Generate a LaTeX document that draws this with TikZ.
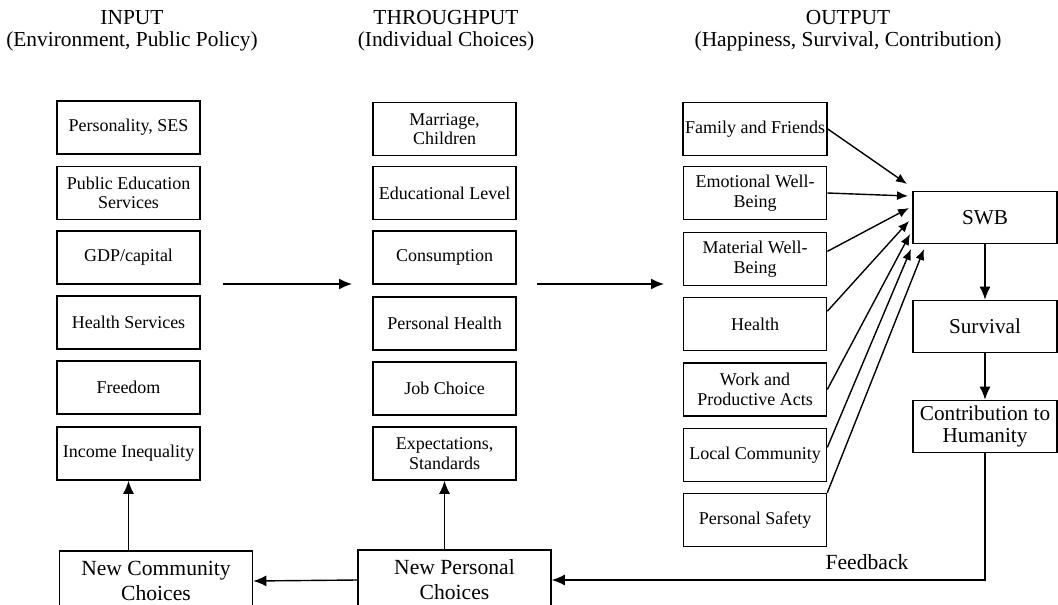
\documentclass[tikz,border=0pt]{standalone}
\usepackage{fontspec}
\setmainfont{Liberation Serif}
\usetikzlibrary{arrows.meta}

\tikzset{
  smallbox/.style={draw, line width=0.8pt, minimum width=71.5pt, minimum height=26.5pt,
    align=center, inner sep=1pt, font=\fontsize{9}{9.8}\selectfont},
  bigbox/.style={draw, line width=0.8pt, minimum width=72pt, minimum height=26pt,
    align=center, inner sep=1pt, font=\fontsize{10.6}{10.8}\selectfont},
  newbox/.style={draw, line width=0.8pt, minimum width=96.5pt, minimum height=30pt,
    align=center, inner sep=1pt, font=\fontsize{10.8}{12.5}\selectfont},
  head/.style={align=center, font=\fontsize{10.7}{11}\selectfont},
  arr/.style={line width=0.7pt, -{Latex[length=6.5pt,width=5.5pt]}},
  swbarr/.style={line width=0.7pt, -{Latex[length=5.5pt,width=4.5pt]}}
}

\begin{document}
\begin{tikzpicture}[x=0.5pt,y=-0.5pt]
    \useasboundingbox (0,0) rectangle (1058,604);
    % Headings
    \node[head] (hin) at (132,31) {INPUT\\(Environment, Public Policy)};
    \node[head] (hthr) at (446,31) {THROUGHPUT\\(Individual Choices)};
    \node[head] (hout) at (848,31) {OUTPUT\\(Happiness, Survival, Contribution)};
    % Input column
    \node[smallbox] (pers) at (128.5,127.5) {Personality, SES};
    \node[smallbox] (pubed) at (128.5,193) {Public Education\\Services};
    \node[smallbox] (gdp) at (128.5,257.5) {GDP/capital};
    \node[smallbox] (hserv) at (128.5,322.5) {Health Services};
    \node[smallbox] (free) at (128.5,387.5) {Freedom};
    \node[smallbox] (ineq) at (128.5,453.5) {Income Inequality};
    % Throughput column
    \node[smallbox] (marr) at (444.5,129) {Marriage,\\Children};
    \node[smallbox] (edlev) at (444.5,193) {Educational Level};
    \node[smallbox] (cons) at (444.5,257.5) {Consumption};
    \node[smallbox] (phlth) at (444.5,323.5) {Personal Health};
    \node[smallbox] (job) at (444.5,388.5) {Job Choice};
    \node[smallbox] (expct) at (444.5,453.5) {Expectations,\\Standards};
    % Output column
    \node[smallbox] (fam) at (755,129) {Family and Friends};
    \node[smallbox] (emo) at (755,193) {Emotional Well-\\Being};
    \node[smallbox] (mat) at (755,259) {Material Well-\\Being};
    \node[smallbox] (hlth) at (755,324) {Health};
    \node[smallbox] (work) at (755,389.5) {Work and\\Productive Acts};
    \node[smallbox] (loc) at (755,455) {Local Community};
    \node[smallbox] (safe) at (755,520) {Personal Safety};
    % SWB, survival, contribution
    \node[bigbox] (swb) at (985,217.5) {SWB};
    \node[bigbox] (surv) at (985,326.5) {Survival};
    \node[bigbox] (contr) at (985,426.5) {Contribution to\\Humanity};
    % New choices (cut off at the bottom)
    \node[newbox] (ncom) at (156,581) {New Community\\Choices};
    \node[newbox] (npers) at (454.5,580) {New Personal\\Choices};
    \node[font=\fontsize{10.8}{12}\selectfont] (fblab) at (867,562) {Feedback};

    % Column to column arrows
    \coordinate (c1) at (223,284);
    \coordinate (c2) at (352,284);
    \coordinate (c3) at (537,284);
    \coordinate (c4) at (664,284);
    \draw[arr] (c1) -- (c2);
    \draw[arr] (c3) -- (c4);

    % Arrows into SWB
    \coordinate (t1) at (907,184);
    \coordinate (t2) at (908,196);
    \coordinate (t3) at (909,208);
    \coordinate (t4) at (909,221);
    \coordinate (t5) at (910,234);
    \coordinate (t6) at (911,249);
    \coordinate (t7) at (924,249);
    \draw[swbarr] (fam.east) -- (t1);
    \draw[swbarr] (emo.east) -- (t2);
    \draw[swbarr] (mat.6) -- (t3);
    \draw[swbarr] (hlth.10) -- (t4);
    \draw[swbarr] (work.east) -- (t5);
    \draw[swbarr] (loc.6) -- (t6);
    \draw[swbarr] (safe.north east) -- (t7);

    % Down the right side
    \draw[arr] (swb) -- (surv);
    \draw[arr] (surv) -- (contr);

    % Feedback loop
    \draw[arr] (contr.south) |- (npers.east);
    \draw[arr] (npers.west) -- (ncom.east);
    \draw[arr] (ineq.south |- ncom.north) -- (ineq.south);
    \draw[arr] (expct.south |- npers.north) -- (expct.south);
\end{tikzpicture}
\end{document}
